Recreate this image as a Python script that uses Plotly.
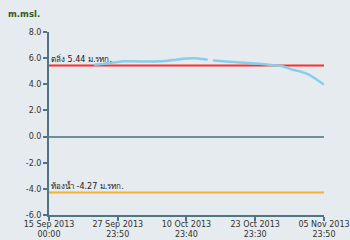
import plotly.graph_objects as go

times = ["2013-09-23 12:00", "2013-09-25 00:00", "2013-09-26 12:00", "2013-09-28 00:00",
         "2013-09-29 00:00", "2013-10-01 00:00", "2013-10-03 00:00", "2013-10-05 00:00",
         "2013-10-07 00:00", "2013-10-09 00:00", "2013-10-11 00:00", "2013-10-12 12:00",
         "2013-10-14 00:00", "2013-10-15 00:00", "2013-10-15 12:00", "2013-10-16 00:00",
         "2013-10-18 00:00", "2013-10-20 00:00", "2013-10-22 00:00", "2013-10-24 12:00",
         "2013-10-27 00:00", "2013-10-29 00:00", "2013-10-31 00:00", "2013-11-01 12:00",
         "2013-11-03 00:00", "2013-11-04 07:00", "2013-11-05 00:00", "2013-11-05 23:50"]
levels = [5.50, 5.55, 5.62, 5.70, 5.76, 5.76, 5.74, 5.75, 5.78, 5.88, 5.97, 5.99,
          5.94, 5.88, None, 5.82, 5.76, 5.70, 5.65, 5.58, 5.48, 5.40, 5.12, 4.98,
          4.75, 4.45, 4.25, 3.98]

bank_level = 5.44
bed_level = -4.27
bank_label = "ตลิ่ง 5.44 ม.รทก."
bed_label = "ท้องน้ำ -4.27 ม.รทก."

x_start = "2013-09-15 00:00"
x_end = "2013-11-05 23:50"
tick_vals = ["2013-09-15 00:00", "2013-09-27 23:50", "2013-10-10 23:40",
             "2013-10-23 23:30", "2013-11-05 23:50"]
tick_text = ["15 Sep 2013<br>00:00", "27 Sep 2013<br>23:50", "10 Oct 2013<br>23:40",
             "23 Oct 2013<br>23:30", "05 Nov 2013<br>23:50"]
y_ticks = [8, 6, 4, 2, 0, -2, -4, -6]
y_title = "m.msl."

bg = "#e5ebee"
axis_col = "#4d7585"
font = "DejaVu Sans"

fig = go.Figure()
fig.add_trace(go.Scatter(x=[x_start, x_end], y=[bed_level, bed_level], mode="lines",
                         line=dict(color="#f2b233", width=2), hoverinfo="skip"))
fig.add_trace(go.Scatter(x=[x_start, x_end], y=[bank_level, bank_level], mode="lines",
                         line=dict(color="#ff2e2e", width=2), hoverinfo="skip"))
fig.add_trace(go.Scatter(x=times, y=levels, mode="lines", connectgaps=False,
                         line=dict(color="#87ceeb", width=2.5, shape="spline", smoothing=0.5)))

fig.add_annotation(text=bank_label, xref="paper", x=0.003, xanchor="left",
                   yref="y", y=bank_level, yanchor="bottom", showarrow=False,
                   font=dict(family=font, size=8, color="#222"), borderpad=0)
fig.add_annotation(text=bed_label, xref="paper", x=0.003, xanchor="left",
                   yref="y", y=bed_level, yanchor="bottom", showarrow=False,
                   font=dict(family=font, size=8, color="#222"), borderpad=0)
fig.add_annotation(text="<b>" + y_title + "</b>", xref="paper", yref="paper",
                   x=(6 - 49) / 275, y=1 + 18 / 183, xanchor="left", yanchor="middle",
                   showarrow=False, font=dict(family=font, size=8.5, color="#3c5a1e"))

fig.update_layout(
    width=350, height=240,
    margin=dict(l=49, r=26, t=32, b=25, autoexpand=False),
    paper_bgcolor=bg, plot_bgcolor=bg,
    showlegend=False, template="none",
    font=dict(family=font, size=8, color="#333"),
)
fig.update_xaxes(range=[x_start, x_end], tickmode="array", tickvals=tick_vals,
                 ticktext=tick_text, showgrid=False, zeroline=False,
                 showline=True, linecolor=axis_col, linewidth=2,
                 ticks="outside", ticklen=4, tickcolor=axis_col, tickwidth=1.5,
                 ticklabelstandoff=-4,
                 automargin=False, tickfont=dict(family=font, size=8, color="#333"))
fig.update_yaxes(range=[-6, 8], tickmode="array", tickvals=y_ticks,
                 ticktext=[f"{v:.1f}" for v in y_ticks], showgrid=False,
                 zeroline=True, zerolinecolor="#6f8f9a", zerolinewidth=1.5,
                 showline=True, linecolor=axis_col, linewidth=2,
                 ticks="outside", ticklen=4, tickcolor=axis_col, tickwidth=1.5,
                 automargin=False, tickfont=dict(family=font, size=8, color="#333"))

fig.write_html("out.html")
